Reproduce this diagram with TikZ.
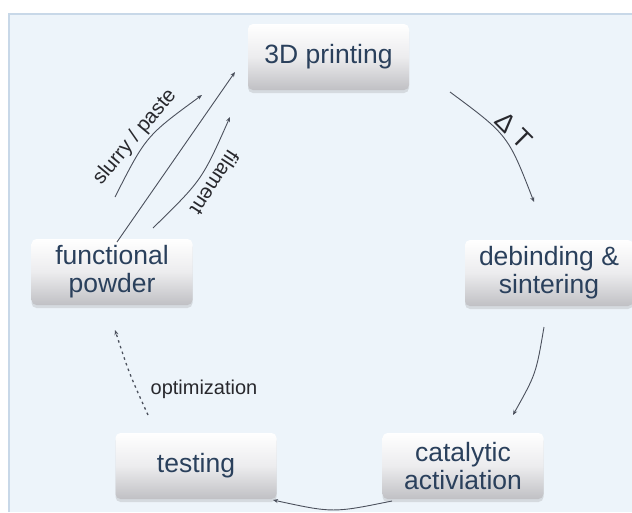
\documentclass[tikz,border=0pt]{standalone}
\usepackage{fontspec}
\setmainfont{Liberation Sans}
\usetikzlibrary{arrows.meta,shadows}
\definecolor{bgblue}{RGB}{237,244,250}
\definecolor{edgeblue}{RGB}{200,216,232}
\definecolor{boxtext}{RGB}{42,64,92}
\definecolor{boxmid}{RGB}{236,236,238}
\definecolor{boxbot}{RGB}{192,192,196}
\definecolor{arrowgray}{RGB}{75,80,92}
\definecolor{labelgray}{RGB}{40,40,45}
\begin{document}
\begin{tikzpicture}[x=1pt,y=-1pt,
  stepbox/.style={rounded corners=5pt, top color=white, bottom color=boxbot, middle color=boxmid,
    minimum width=161pt, minimum height=66pt, align=center, text=boxtext, inner sep=2pt,
    font=\fontsize{26.5}{28}\selectfont,
    drop shadow={opacity=0.22, shadow xshift=0pt, shadow yshift=-3pt}},
  flow/.style={draw=arrowgray, line width=0.9pt, -{Stealth[length=5pt,width=4pt]}},
  lbl/.style={text=labelgray, inner sep=1pt, font=\fontsize{20.5}{22}\selectfont}]
\useasboundingbox (0,0) rectangle (632,512);
\fill[white] (0,0) rectangle (632,512);
\fill[bgblue] (9,14) rectangle (632,512);
\draw[edgeblue, line width=1.5pt] (9,512) -- (9,14) -- (632,14);

\node[stepbox] (print) at (328.5,57) {3D printing};
\node[stepbox, minimum width=168pt] (debind) at (549,273) {debinding \&\\sintering};
\node[stepbox] (func) at (112,272) {functional\\powder};
\node[stepbox] (test) at (196,466) {testing};
\node[stepbox] (cat) at (463,466) {catalytic\\activiation};

% Delta T
\coordinate (dtA) at (450,92);
\coordinate (dtB) at (534,202);
\draw[flow] (dtA) .. controls (508,135) .. (dtB);
\node[lbl, font=\fontsize{26}{28}\selectfont, rotate=-45] (dT) at (514,130) {Δ T};

% debinding -> catalytic
\coordinate (dcA) at (544,327);
\coordinate (dcB) at (513,415);
\draw[flow] (dcA) .. controls (536,374) .. (dcB);

% catalytic -> testing
\coordinate (ctA) at (392,501);
\coordinate (ctB) at (273,500);
\draw[flow] (ctA) .. controls (333,513) .. (ctB);

% testing -> functional (dashed)
\coordinate (tfA) at (148,415);
\coordinate (tfB) at (115,330);
\draw[flow, line width=1.3pt, dash pattern=on 2.5pt off 3.5pt] (tfA) .. controls (129,373) .. (tfB);
\node[lbl, font=\fontsize{20}{22}\selectfont] (opt) at (204,389) {optimization};

% functional -> 3D printing
\coordinate (mA) at (117,242);
\coordinate (mB) at (235,72);
\draw[flow] (mA) -- (mB);
\coordinate (sA) at (115,197);
\coordinate (sB) at (202,95);
\draw[flow] (sA) .. controls (146,136) .. (sB);
\node[lbl, rotate=50] (slurry) at (135,137) {slurry / paste};
\coordinate (fA) at (153,228);
\coordinate (fB) at (230,117);
\draw[flow] (fA) .. controls (202,180) .. (fB);
\node[lbl, rotate=-123] (fil) at (215,183) {filament};
\end{tikzpicture}
\end{document}
